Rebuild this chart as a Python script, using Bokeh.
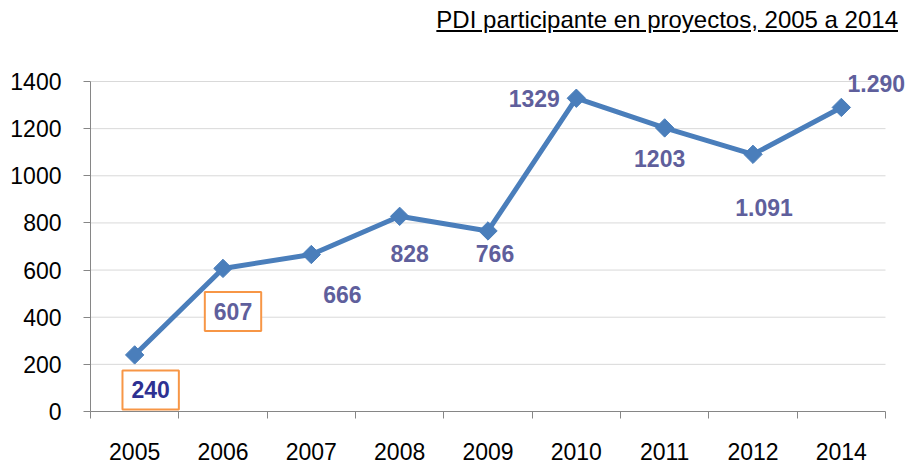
from math import pi
from bokeh.plotting import figure
from bokeh.models import (Range1d, FixedTicker, ColumnDataSource, LabelSet, Label, Div)
from bokeh.layouts import column
from bokeh.core.properties import value
from bokeh.embed import file_html
from bokeh.resources import INLINE

# ---- data ----
years = ["2005", "2006", "2007", "2008", "2009", "2010", "2011", "2012", "2014"]
pdi = [240, 607, 666, 828, 766, 1329, 1203, 1091, 1290]
point_labels = ["240", "607", "666", "828", "766", "1329", "1203", "1.091", "1.290"]
y_ticks = [0, 200, 400, 600, 800, 1000, 1200, 1400]
title_text = "PDI participante en proyectos, 2005 a 2014"

# ---- label styling (screen offsets in px, right / down) ----
label_dx = [16, 10, 31, 10, 7, -42, -5, 11, 35]
label_dy = [35, 43, 40, 37, 23, 0, 31, 53, -24]
boxed = [True, True, False, False, False, False, False, False, False]
label_colors = ["#2E3192", "#5F5F9C", "#5F5F9C", "#5F5F9C", "#5F5F9C",
                "#5F5F9C", "#5F5F9C", "#5F5F9C", "#5F5F9C"]

FONT = "Liberation Sans"
BLUE = "#4A7EBB"
AXIS = "#868686"

# ---- layout geometry (px) ----
PLOT_W = 795          # width of the drawn axis area
PLOT_H = 330          # height of the drawn axis area
PAD_RIGHT = 23        # room at right for the last value label
PAD_TOP = 16          # room at top for the last value label

n = len(years)
y_max = y_ticks[-1]
xs = [i + 0.5 for i in range(n)]
x_end = n + PAD_RIGHT * n / PLOT_W
y_end = y_max + PAD_TOP * y_max / PLOT_H

p = figure(width=908, height=422, x_range=Range1d(0, x_end),
           y_range=Range1d(0, y_end), output_backend="svg",
           toolbar_location=None, min_border_left=90, min_border_right=0,
           min_border_top=39 - PAD_TOP, min_border_bottom=53,
           margin=(0, 0, 0, 0))
p.outline_line_color = None
p.background_fill_color = "white"
p.border_fill_color = "white"

# x axis: labels at centres, tick marks at category boundaries
p.xaxis.bounds = (0, n)
p.xaxis.ticker = FixedTicker(ticks=xs, minor_ticks=list(range(n + 1)))
p.xaxis.major_label_overrides = {x: y for x, y in zip(xs, years)}
p.xaxis.major_tick_out = 0
p.xaxis.major_tick_in = 0
p.xaxis.minor_tick_out = 7
p.xaxis.minor_tick_in = 0
p.xaxis.minor_tick_line_color = AXIS
p.xaxis.axis_line_color = AXIS
p.xaxis.major_label_text_font = FONT
p.xaxis.major_label_text_font_size = "23px"
p.xaxis.major_label_text_color = "black"
p.xaxis.major_label_standoff = 24

p.yaxis.bounds = (0, y_max)
p.yaxis.ticker = FixedTicker(ticks=y_ticks, minor_ticks=[])
p.yaxis.major_tick_out = 7
p.yaxis.major_tick_in = 0
p.yaxis.major_tick_line_color = AXIS
p.yaxis.axis_line_color = AXIS
p.yaxis.major_label_text_font = FONT
p.yaxis.major_label_text_font_size = "23px"
p.yaxis.major_label_text_color = "black"
p.yaxis.major_label_standoff = 22

# horizontal gridlines, limited to the category span
p.xgrid.visible = False
p.ygrid.visible = False
grid_y = y_ticks[1:]
p.segment(x0=[0] * len(grid_y), x1=[n] * len(grid_y), y0=grid_y, y1=grid_y,
          line_color="#D9D9D9", line_width=1, level="underlay")

p.line(xs, pdi, line_color=BLUE, line_width=5, line_join="round")
p.scatter(xs, pdi, marker="square", size=13, angle=pi / 4,
          fill_color=BLUE, line_color=BLUE)

idx = [i for i in range(n) if not boxed[i]]
src = ColumnDataSource(dict(
    x=[xs[i] for i in idx], y=[pdi[i] for i in idx],
    text=[point_labels[i] for i in idx],
    dx=[label_dx[i] for i in idx], dy=[-label_dy[i] for i in idx],
    color=[label_colors[i] for i in idx]))

p.add_layout(LabelSet(source=src, x="x", y="y", text="text",
                      x_offset="dx", y_offset="dy",
                      text_align="center", text_baseline="middle",
                      text_font=value(FONT), text_font_style="bold",
                      text_font_size="23px", text_color="color"))

for i in range(n):
    if boxed[i]:
        p.add_layout(Label(x=xs[i], y=pdi[i], text=point_labels[i],
                           x_offset=label_dx[i], y_offset=-label_dy[i],
                           text_align="center", text_baseline="middle",
                           text_font=FONT, text_font_style="bold",
                           text_font_size="23px", text_color=label_colors[i],
                           border_line_color="#F79646", border_line_width=2,
                           background_fill_color="white",
                           padding=dict(left=9, right=9, top=11, bottom=11)))

title = Div(text="<u>" + title_text + "</u>", width=898, height=34,
            margin=(8, 0, 0, 0),
            styles={"font-family": FONT, "font-size": "24px",
                    "line-height": "24px",
                    "text-align": "right", "color": "black"})

layout = column(title, p, spacing=0)
open("out.html", "w").write(file_html(layout, INLINE))
